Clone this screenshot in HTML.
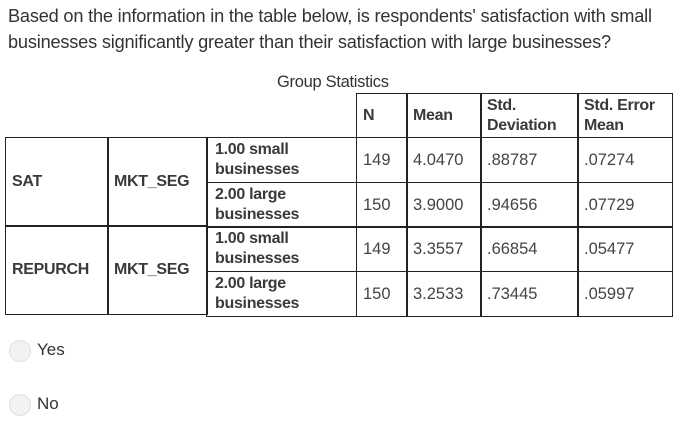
<!DOCTYPE html>
<html><head><meta charset="utf-8"><style>
body{margin:0;width:700px;height:442px;background:#fff;position:relative;font-family:"Liberation Sans",sans-serif;color:#333;overflow:hidden}
.a{position:absolute}
.q{left:8px;font-size:18.2px;white-space:nowrap;letter-spacing:-0.2px}
.c{position:absolute;border:1.5px solid #222;box-sizing:border-box;font-size:16px;font-weight:bold;color:#3a3a3a;display:flex;align-items:center;padding-left:6px;line-height:20px;letter-spacing:-0.3px}
.n{font-weight:normal;color:#444;font-size:16.5px;letter-spacing:0}
.radio{position:absolute;width:22px;height:22px;border-radius:50%;background:#f2f2f4;border:1px solid #ddd;box-sizing:border-box}
.lbl{position:absolute;font-size:17px;color:#333}
</style></head><body>
<div class="a q" style="top:6px">Based on the information in the table below, is respondents' satisfaction with small</div>
<div class="a q" style="top:32px">businesses significantly greater than their satisfaction with large businesses?</div>
<div class="a" style="left:277px;top:73px;font-size:16.5px;color:#333;letter-spacing:-0.3px">Group Statistics</div>
<div>
<div class="c" style="left:356px;top:93px;width:52px;height:45px">N</div>
<div class="c" style="left:406px;top:93px;width:76px;height:45px">Mean</div>
<div class="c" style="left:480px;top:93px;width:99px;height:45px">Std.<br>Deviation</div>
<div class="c" style="left:577px;top:93px;width:96px;height:45px">Std. Error<br>Mean</div>
<div class="c" style="left:5px;top:137px;width:104px;height:90px">SAT</div>
<div class="c" style="left:107px;top:137px;width:101px;height:90px">MKT_SEG</div>
<div class="c" style="left:5px;top:225px;width:104px;height:90px">REPURCH</div>
<div class="c" style="left:107px;top:225px;width:101px;height:90px">MKT_SEG</div>
<div id="rows"></div>
</div>
<div class="radio" style="left:9px;top:340px"></div>
<div class="lbl" style="left:37px;top:340px">Yes</div>
<div class="radio" style="left:9px;top:394px"></div>
<div class="lbl" style="left:37px;top:394px">No</div>
<script>
const groups=["1.00 small<br>businesses","2.00 large<br>businesses","1.00 small<br>businesses","2.00 large<br>businesses"];
const nVals=["149","150","149","150"];
const means=["4.0470","3.9000","3.3557","3.2533"];
const sds=[".88787",".94656",".66854",".73445"];
const ses=[".07274",".07729",".05477",".05997"];
const host=document.getElementById('rows');
const cols=[[206,151],[356,52],[406,76],[480,99],[577,96]];
for(let i=0;i<4;i++){
  const top=137+i*44.5;
  const vals=[groups[i],nVals[i],means[i],sds[i],ses[i]];
  vals.forEach((v,j)=>{
    const d=document.createElement('div');
    d.className='c'+(j>0?' n':'');
    d.style.left=cols[j][0]+'px';d.style.top=top+'px';
    d.style.width=cols[j][1]+'px';d.style.height='46px';
    if(j===0){d.style.paddingLeft='8px';}
    d.innerHTML=v;
    
    
    host.appendChild(d);
  });
}
</script>
</body></html>
